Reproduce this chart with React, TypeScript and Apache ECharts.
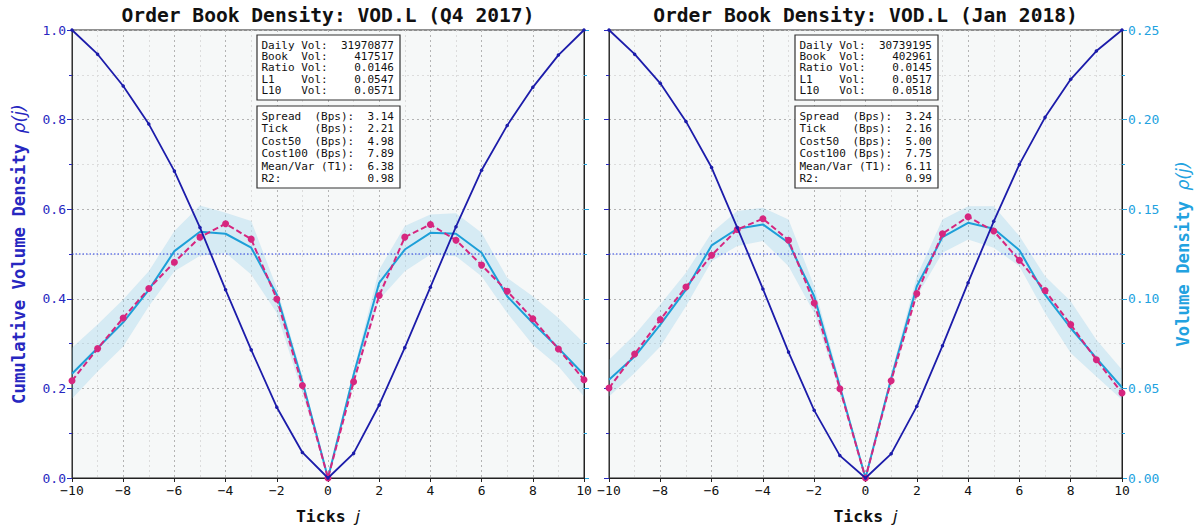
import React, { useEffect, useRef } from "react";
import * as echarts from "echarts";

const TICKS = [-10, -9, -8, -7, -6, -5, -4, -3, -2, -1, 0, 1, 2, 3, 4, 5, 6, 7, 8, 9, 10];

const TITLES = ["Order Book Density: VOD.L (Q4 2017)", "Order Book Density: VOD.L (Jan 2018)"];

// Q4 2017
const cumQ4 = [1.0, 0.946, 0.875, 0.79, 0.685, 0.559, 0.42, 0.286, 0.158, 0.057, 0, 0.055, 0.163, 0.291, 0.426, 0.561, 0.687, 0.787, 0.872, 0.944, 1.0];
const empQ4 = [0.0543, 0.0722, 0.0893, 0.1057, 0.1204, 0.1344, 0.1419, 0.1333, 0.0999, 0.0516, 0, 0.0537, 0.1018, 0.1344, 0.1415, 0.1327, 0.1188, 0.1042, 0.0889, 0.072, 0.0548];
const fitQ4 = [0.0582, 0.0725, 0.0869, 0.105, 0.1266, 0.1374, 0.1363, 0.1285, 0.1023, 0.0539, 0, 0.0576, 0.1089, 0.1275, 0.1368, 0.1363, 0.1257, 0.1014, 0.0865, 0.0725, 0.0576];
const upQ4 = [0.0727, 0.0856, 0.0996, 0.1154, 0.1378, 0.152, 0.148, 0.1434, 0.106, 0.0567, 0, 0.06, 0.1163, 0.1406, 0.1471, 0.1477, 0.1368, 0.1117, 0.1014, 0.0893, 0.0753];
const loQ4 = [0.0442, 0.0595, 0.0734, 0.0958, 0.1154, 0.124, 0.1257, 0.1135, 0.0921, 0.0475, 0, 0.052, 0.0996, 0.1154, 0.1247, 0.1238, 0.1126, 0.0921, 0.0744, 0.0623, 0.0455];

// Jan 2018
const cumJan = [1.0, 0.946, 0.881, 0.796, 0.693, 0.559, 0.422, 0.281, 0.151, 0.05, 0, 0.054, 0.16, 0.295, 0.436, 0.573, 0.7, 0.805, 0.89, 0.953, 1.0];
const empJan = [0.0502, 0.0692, 0.0884, 0.1066, 0.1243, 0.1387, 0.1447, 0.1327, 0.0977, 0.0498, 0, 0.0543, 0.1029, 0.1363, 0.1458, 0.1378, 0.1215, 0.1046, 0.0856, 0.066, 0.0474];
const fitJan = [0.0548, 0.0678, 0.0856, 0.1051, 0.1298, 0.1391, 0.1415, 0.1313, 0.1014, 0.0511, 0, 0.0555, 0.107, 0.1344, 0.1424, 0.1391, 0.1271, 0.1023, 0.0837, 0.0669, 0.0505];
const upJan = [0.066, 0.08, 0.0968, 0.1145, 0.1368, 0.149, 0.1508, 0.1443, 0.107, 0.054, 0, 0.058, 0.1126, 0.1443, 0.1517, 0.1517, 0.135, 0.1126, 0.0986, 0.0772, 0.0604];
const loJan = [0.0455, 0.0586, 0.0734, 0.0958, 0.121, 0.1294, 0.1322, 0.1182, 0.0921, 0.048, 0, 0.052, 0.1014, 0.1257, 0.1331, 0.1285, 0.1182, 0.0921, 0.0697, 0.0567, 0.0436];

const volLabels = ["Daily Vol:", "Book  Vol:", "Ratio Vol:", "L1    Vol:", "L10   Vol:"];
const volQ4 = ["31970877", "417517", "0.0146", "0.0547", "0.0571"];
const volJan = ["30739195", "402961", "0.0145", "0.0517", "0.0518"];
const costLabels = ["Spread  (Bps):", "Tick    (Bps):", "Cost50  (Bps):", "Cost100 (Bps):", "Mean/Var (T1):", "R2:"];
const costQ4 = ["3.14", "2.21", "4.98", "7.89", "6.38", "0.98"];
const costJan = ["3.24", "2.16", "5.00", "7.75", "6.11", "0.99"];

const MONO = "'DejaVu Sans Mono', monospace";
const DARK = "#1c1caa";
const DARK_LBL = "#2727c0";
const LIGHT = "#1d9fd8";
const LIGHT_LBL = "#22a2e0";
const PINK = "#d6267f";

const GRIDS = [
  { left: 72, width: 512 },
  { left: 609, width: 513 },
];
const TOP = 30;
const HEIGHT = 448;

function row(label: string, value: string) {
  const width = 20;
  const pad = Math.max(1, width - label.length - value.length);
  return label + " ".repeat(pad) + value;
}

export default function App() {
  const ref = useRef<HTMLDivElement>(null);
  useEffect(() => {
    document.body.style.margin = "0";
    const chart = echarts.init(ref.current!, null, { renderer: "svg" });
    const panels = [
      { cum: cumQ4, emp: empQ4, fit: fitQ4, up: upQ4, lo: loQ4, vol: volQ4, cost: costQ4 },
      { cum: cumJan, emp: empJan, fit: fitJan, up: upJan, lo: loJan, vol: volJan, cost: costJan },
    ];

    const xAxis = GRIDS.map((_, i) => ({
      type: "value",
      gridIndex: i,
      min: -10,
      max: 10,
      interval: 2,
      name: "{b|Ticks }{i|j}",
      nameLocation: "middle",
      nameGap: 30,
      nameTextStyle: {
        rich: {
          b: { fontFamily: MONO, fontWeight: "bold", fontSize: 16.5, color: "#111" },
          i: { fontFamily: "'DejaVu Sans', sans-serif", fontStyle: "italic", fontSize: 16.5, color: "#111" },
        },
      },
      axisLine: { show: true, onZero: false, lineStyle: { color: "#222", width: 1 } },
      axisTick: { show: true, length: 4, lineStyle: { color: "#222" } },
      axisLabel: {
        fontFamily: MONO,
        fontSize: 13,
        color: "#111",
        margin: 6,
        formatter: (v: number) => String(v).replace("-", "\u2212"),
      },
      splitLine: { show: true, lineStyle: { color: "#b4b4b4", type: [2, 3], width: 1 } },
      minorTick: { show: false, splitNumber: 2 },
      minorSplitLine: { show: true, lineStyle: { color: "#dcdcdc", type: [2, 3], width: 1 } },
    }));

    const yAxis: any[] = [];
    GRIDS.forEach((_, i) => {
      yAxis.push({
        type: "value",
        gridIndex: i,
        position: "left",
        min: 0,
        max: 1,
        interval: 0.2,
        name: i === 0 ? "{b|Cumulative Volume Density }{i|ρ(j)}" : "",
        nameLocation: "middle",
        nameGap: 45,
        nameTextStyle: {
          rich: {
            b: { fontFamily: MONO, fontWeight: "bold", fontSize: 17.3, color: DARK_LBL },
            i: { fontFamily: "'DejaVu Sans', sans-serif", fontStyle: "italic", fontSize: 17.3, color: DARK_LBL },
          },
        },
        axisLine: { show: true, onZero: false, lineStyle: { color: "#333", width: 1 } },
        axisTick: { show: true, length: 5, lineStyle: { color: DARK_LBL } },
        minorTick: { show: true, splitNumber: 2, length: 3, lineStyle: { color: DARK_LBL } },
        axisLabel: {
          show: i === 0,
          fontFamily: MONO,
          fontSize: 13,
          color: DARK_LBL,
          margin: 6,
          formatter: (v: number) => v.toFixed(1),
        },
        splitLine: { show: true, lineStyle: { color: "#b4b4b4", type: [2, 3], width: 1 } },
        minorSplitLine: { show: true, lineStyle: { color: "#dcdcdc", type: [2, 3], width: 1 } },
      });
      yAxis.push({
        type: "value",
        gridIndex: i,
        position: "right",
        min: 0,
        max: 0.25,
        interval: 0.05,
        name: i === 1 ? "{b|Volume Density }{i|ρ(j)}" : "",
        nameLocation: "middle",
        nameGap: 52,
        nameRotate: 90,
        nameTextStyle: {
          rich: {
            b: { fontFamily: MONO, fontWeight: "bold", fontSize: 17.3, color: LIGHT_LBL },
            i: { fontFamily: "'DejaVu Sans', sans-serif", fontStyle: "italic", fontSize: 17.3, color: LIGHT_LBL },
          },
        },
        axisLine: { show: true, onZero: false, lineStyle: { color: "#222", width: 1 } },
        axisTick: { show: true, length: 5, lineStyle: { color: LIGHT_LBL } },
        minorTick: { show: true, splitNumber: 2, length: 3, lineStyle: { color: LIGHT_LBL } },
        axisLabel: {
          show: i === 1,
          fontFamily: MONO,
          fontSize: 13,
          color: LIGHT_LBL,
          margin: 6,
          formatter: (v: number) => v.toFixed(2),
        },
        splitLine: { show: false },
      });
    });

    const series: any[] = [];
    panels.forEach((p, i) => {
      const cy = 2 * i;
      const dy = 2 * i + 1;
      series.push({
        type: "custom",
        xAxisIndex: i,
        yAxisIndex: dy,
        data: [[0, 0.1]],
        silent: true,
        z: 1,
        renderItem: (_params: any, api: any) => {
          const upper = TICKS.map((t, k) => api.coord([t, p.up[k]]));
          const lower = TICKS.map((t, k) => api.coord([t, p.lo[k]])).reverse();
          return {
            type: "polygon",
            shape: { points: upper.concat(lower) },
            style: { fill: "rgba(120, 195, 230, 0.25)", stroke: "none" },
          };
        },
      });
      series.push({
        type: "line",
        xAxisIndex: i,
        yAxisIndex: cy,
        data: [[-10, 0.5], [10, 0.5]],
        symbol: "none",
        lineStyle: { color: "#2238e0", width: 1.2, type: [1.5, 2] },
        z: 2,
      });
      series.push({
        type: "line",
        xAxisIndex: i,
        yAxisIndex: dy,
        data: TICKS.map((t, k) => [t, p.fit[k]]),
        symbol: "none",
        lineStyle: { color: LIGHT, width: 2 },
        z: 3,
      });
      series.push({
        type: "line",
        xAxisIndex: i,
        yAxisIndex: dy,
        data: TICKS.map((t, k) => [t, p.emp[k]]),
        symbol: "circle",
        symbolSize: 7,
        itemStyle: { color: PINK },
        lineStyle: { color: PINK, width: 2, type: [6, 3] },
        z: 4,
      });
      series.push({
        type: "line",
        xAxisIndex: i,
        yAxisIndex: cy,
        data: TICKS.map((t, k) => [t, p.cum[k]]),
        symbol: "circle",
        symbolSize: 3.5,
        itemStyle: { color: DARK },
        lineStyle: { color: DARK, width: 1.8 },
        z: 5,
      });
    });

    const graphic: any[] = [];
    const boxX = [257, 795];
    panels.forEach((p, i) => {
      const g = GRIDS[i];
      graphic.push({
        type: "text",
        x: g.left + g.width / 2,
        y: 15,
        style: {
          text: TITLES[i],
          font: `bold 19.6px ${MONO}`,
          fill: "#111",
          align: "center",
          verticalAlign: "middle",
        },
        z: 100,
      });
      const bx = boxX[i];
      graphic.push({
        type: "rect",
        shape: { x: bx, y: 35, width: 143, height: 65 },
        style: { fill: "#fff", stroke: "#333", lineWidth: 1.2 },
        z: 100,
      });
      volLabels.forEach((lab, k) => {
        graphic.push({
          type: "text",
          x: bx + 4.5,
          y: 45 + k * 11.4,
          style: {
            text: row(lab, p.vol[k]),
            font: `11px ${MONO}`,
            fill: "#111",
            verticalAlign: "middle",
          },
          z: 101,
        });
      });
      graphic.push({
        type: "rect",
        shape: { x: bx, y: 106, width: 143, height: 82 },
        style: { fill: "#fff", stroke: "#333", lineWidth: 1.2 },
        z: 100,
      });
      costLabels.forEach((lab, k) => {
        graphic.push({
          type: "text",
          x: bx + 4.5,
          y: 116 + k * 12.5,
          style: {
            text: row(lab, p.cost[k]),
            font: `11px ${MONO}`,
            fill: "#111",
            verticalAlign: "middle",
          },
          z: 101,
        });
      });
    });

    chart.setOption({
      animation: false,
      backgroundColor: "#ffffff",
      grid: GRIDS.map((g) => ({
        left: g.left,
        width: g.width,
        top: TOP,
        height: HEIGHT,
        show: true,
        backgroundColor: "#f6f8f8",
        borderColor: "#222",
        borderWidth: 1,
        containLabel: false,
      })),
      xAxis,
      yAxis,
      series,
      graphic,
    });
    return () => chart.dispose();
  }, []);
  return <div ref={ref} style={{ width: 1197, height: 531, position: "absolute", left: 0, top: 0 }} />;
}
